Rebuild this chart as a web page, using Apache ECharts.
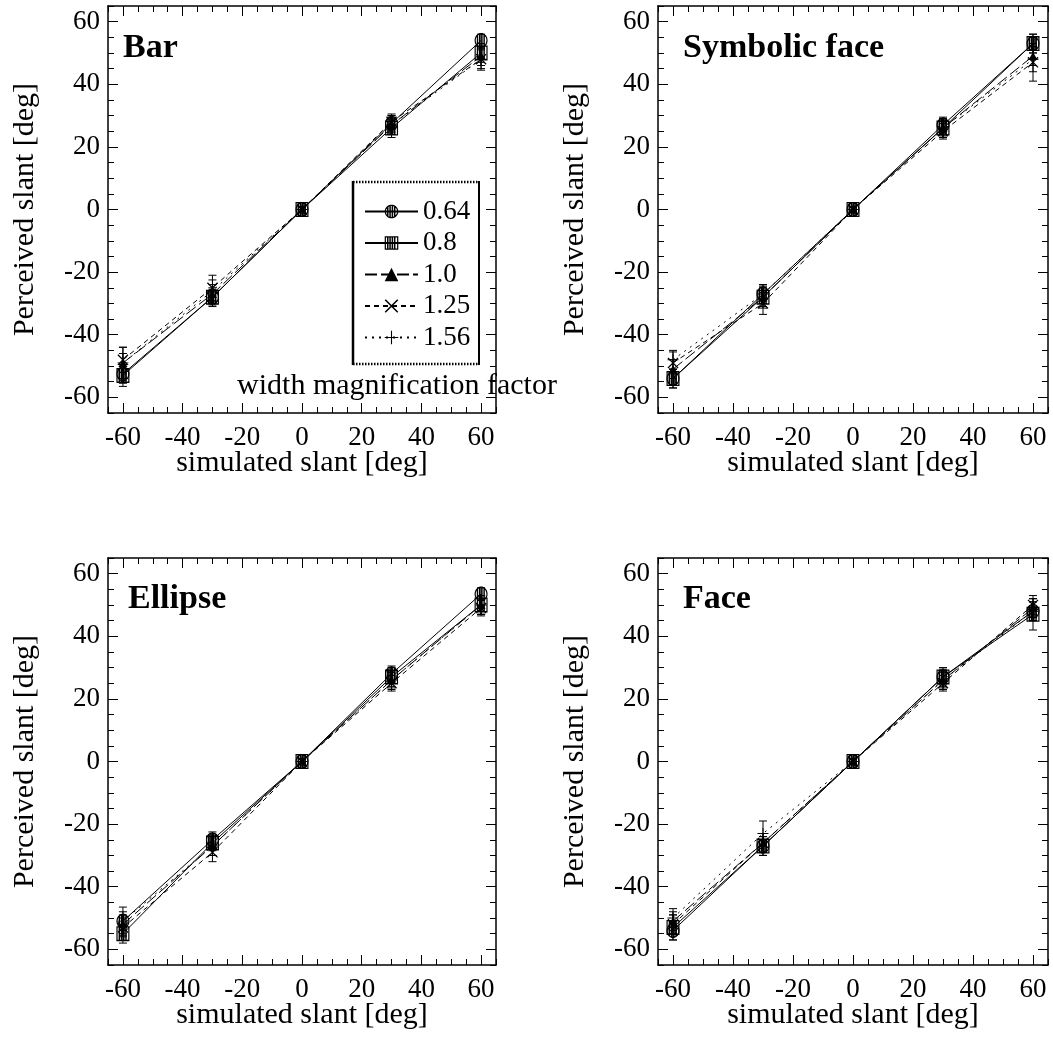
<!DOCTYPE html>
<html><head><meta charset="utf-8">
<script src="https://cdn.jsdelivr.net/npm/echarts@6/dist/echarts.min.js"></script>
<style>html,body{margin:0;padding:0;background:#fff}#c{width:1053px;height:1042px}</style>
</head><body><div id="c"></div>
<script>
// ---------------- data ----------------
const slants = [-60, -30, 0, 30, 60];
const factors = ['0.64', '0.8', '1.0', '1.25', '1.56'];
const panelNames = ['Bar', 'Symbolic face', 'Ellipse', 'Face'];
const tickLabels = [-60, -40, -20, 0, 20, 40, 60];
const legendTitle = 'width magnification factor';
const xTitle = 'simulated slant [deg]';
const yTitle = 'Perceived slant [deg]';

const barMean = [
  [-52.5, -28, 0, 27.5, 54],
  [-53, -28, 0, 26, 50],
  [-49, -27, 0, 27, 49],
  [-48, -25, 0, 28, 48],
  [-49, -26, 0, 27, 48]
];
const barErr = [
  [3, 2.5, 0.8, 2.5, 2],
  [3.5, 3, 0.8, 3, 3],
  [3, 3, 0.8, 2.5, 3],
  [4, 4, 0.8, 2.5, 3],
  [5, 3.5, 0.8, 3, 3.5]
];
const symMean = [
  [-54, -27, 0, 27, 53],
  [-54, -28, 0, 26, 53],
  [-51, -28, 0, 26, 49],
  [-49, -30, 0, 25, 47],
  [-48, -27, 0, 26, 48]
];
const symErr = [
  [3, 3, 0.8, 2.5, 3],
  [3, 3, 0.8, 3, 3],
  [3, 3.5, 0.8, 2.5, 3],
  [3.5, 3.5, 0.8, 2.5, 6],
  [3, 3, 0.8, 3, 4]
];
const ellMean = [
  [-51, -25, 0, 28, 53.5],
  [-55, -26, 0, 27, 50],
  [-52, -27, 0, 26, 50],
  [-53, -29, 0, 25, 49],
  [-51, -27, 0, 26, 50]
];
const ellErr = [
  [4.5, 2.5, 0.8, 2.5, 2],
  [3, 2.5, 0.8, 3, 3],
  [3, 3, 0.8, 2.5, 3],
  [3, 3, 0.8, 2.5, 2.5],
  [3, 3, 0.8, 3, 3]
];
const faceMean = [
  [-54, -27, 0, 27, 48],
  [-53, -27, 0, 27, 47],
  [-51, -26, 0, 26, 49],
  [-52, -26, 0, 25, 50],
  [-50, -23, 0, 26, 48]
];
const faceErr = [
  [3, 3, 0.8, 2.5, 3],
  [4, 3, 0.8, 3, 5],
  [3, 3, 0.8, 2.5, 3],
  [3, 3, 0.8, 2.5, 3],
  [3, 4, 0.8, 3, 3]
];
const panelMeans = [barMean, symMean, ellMean, faceMean];
const panelErrs = [barErr, symErr, ellErr, faceErr];

// ---------------- styles ----------------
const FONT = '"Liberation Serif", "DejaVu Serif", serif';
const grids = [
  {left: 108, top: 6, width: 388, height: 407},
  {left: 658, top: 6, width: 390, height: 407},
  {left: 108, top: 558, width: 388, height: 407},
  {left: 658, top: 558, width: 390, height: 407}
];

function rectCW(x, y, w, h) { return `M${x} ${y}L${x + w} ${y}L${x + w} ${y + h}L${x} ${y + h}Z`; }
function rectCCW(x, y, w, h) { return `M${x} ${y}L${x} ${y + h}L${x + w} ${y + h}L${x + w} ${y}Z`; }
function circlePoly(cx, cy, r, ccw) {
  let s = ''; const n = 36;
  for (let k = 0; k < n; k++) {
    const a = (ccw ? -1 : 1) * k / n * 2 * Math.PI;
    s += (k ? 'L' : 'M') + (cx + r * Math.cos(a)).toFixed(2) + ' ' + (cy + r * Math.sin(a)).toFixed(2);
  }
  return s + 'Z';
}
const stripeLeft = [3.4, 6.8, 10.2, 13.6];
const stripeW = 2.2;
function circleSymbol() {
  let p = circlePoly(10, 10, 10, false) + circlePoly(10, 10, 8.2, true);
  stripeLeft.forEach(c => {
    const d = c + stripeW / 2 - 10;
    const h = Math.sqrt(Math.max(0, 8.6 * 8.6 - d * d));
    p += rectCW(c, +(10 - h).toFixed(2), stripeW, +(2 * h).toFixed(2));
  });
  return 'path://' + p;
}
function squareSymbol() {
  let p = rectCW(0, 0, 20, 20) + rectCCW(1.8, 1.8, 16.4, 16.4);
  stripeLeft.forEach(c => { p += rectCW(c, 1.8, stripeW, 16.4); });
  return 'path://' + p;
}
const crossSymbol = 'path://M0 1.6L1.6 0L20 18.4L18.4 20Z M18.4 0L20 1.6L1.6 20L0 18.4Z';
const plusSymbol = 'path://' + rectCW(9.2, 0, 1.6, 20) + rectCW(0, 9.2, 20, 1.6);

const seriesStyle = [
  {symbol: circleSymbol(), size: [13, 15], dash: 'solid'},
  {symbol: squareSymbol(), size: [13, 15], dash: 'solid'},
  {symbol: 'triangle', size: [9, 8], dash: [12, 4]},
  {symbol: crossSymbol, size: [11, 11], dash: [5, 4]},
  {symbol: plusSymbol, size: [11, 11], dash: [2, 5]}
];

// ---------------- axes ----------------
const xAxes = [], yAxes = [];
const baseAxis = (g) => ({
  gridIndex: g, type: 'value', min: -65, max: 65, interval: 5,
  splitLine: {show: false}
});
const labelStyle = {color: '#000', fontFamily: FONT, fontSize: 27};
grids.forEach((gr, g) => {
  xAxes.push(Object.assign(baseAxis(g), {
    position: 'bottom',
    axisLine: {show: true, onZero: false, lineStyle: {color: '#000', width: 1.5}},
    axisTick: {show: true, inside: true, length: 6, lineStyle: {color: '#000', width: 1}},
    axisLabel: Object.assign({show: true, margin: 11,
      formatter: v => (tickLabels.indexOf(v) >= 0 ? String(v) : '')}, labelStyle),
    name: xTitle, nameLocation: 'middle', nameGap: 35, nameMoveOverlap: false,
    nameTextStyle: {color: '#000', fontFamily: FONT, fontSize: 30}
  }));
  xAxes.push(Object.assign(baseAxis(g), {
    position: 'bottom',
    axisLine: {show: false, onZero: false},
    axisTick: {show: true, inside: true, length: 10, customValues: tickLabels, lineStyle: {color: '#000', width: 1}},
    axisLabel: {show: false}
  }));
  xAxes.push(Object.assign(baseAxis(g), {
    position: 'top',
    axisLine: {show: true, onZero: false, lineStyle: {color: '#000', width: 1.5}},
    axisTick: {show: true, inside: true, length: 6, lineStyle: {color: '#000', width: 1}},
    axisLabel: {show: false}
  }));
  xAxes.push(Object.assign(baseAxis(g), {
    position: 'top',
    axisLine: {show: false, onZero: false},
    axisTick: {show: true, inside: true, length: 10, customValues: tickLabels, lineStyle: {color: '#000', width: 1}},
    axisLabel: {show: false}
  }));
  yAxes.push(Object.assign(baseAxis(g), {
    position: 'left',
    axisLine: {show: true, onZero: false, lineStyle: {color: '#000', width: 1.5}},
    axisTick: {show: true, inside: true, length: 6, lineStyle: {color: '#000', width: 1}},
    axisLabel: Object.assign({show: true, margin: 8,
      formatter: v => (tickLabels.indexOf(v) >= 0 ? String(v) : '')}, labelStyle),
    name: yTitle, nameLocation: 'middle', nameGap: 68, nameRotate: 90, nameMoveOverlap: false,
    nameTextStyle: {color: '#000', fontFamily: FONT, fontSize: 30}
  }));
  yAxes.push(Object.assign(baseAxis(g), {
    position: 'left',
    axisLine: {show: false, onZero: false},
    axisTick: {show: true, inside: true, length: 10, customValues: tickLabels, lineStyle: {color: '#000', width: 1}},
    axisLabel: {show: false}
  }));
  yAxes.push(Object.assign(baseAxis(g), {
    position: 'right',
    axisLine: {show: true, onZero: false, lineStyle: {color: '#000', width: 1.5}},
    axisTick: {show: true, inside: true, length: 6, lineStyle: {color: '#000', width: 1}},
    axisLabel: {show: false}
  }));
  yAxes.push(Object.assign(baseAxis(g), {
    position: 'right',
    axisLine: {show: false, onZero: false},
    axisTick: {show: true, inside: true, length: 10, customValues: tickLabels, lineStyle: {color: '#000', width: 1}},
    axisLabel: {show: false}
  }));
});

// ---------------- series ----------------
const series = [];
panelMeans.forEach((means, g) => {
  const errs = panelErrs[g];
  const ebData = [];
  means.forEach((row, i) => row.forEach((m, j) => {
    ebData.push([slants[j], m - errs[i][j], m + errs[i][j]]);
  }));
  series.push({
    type: 'custom', xAxisIndex: g * 4, yAxisIndex: g * 4, z: 2, silent: true,
    encode: {x: 0, y: [1, 2]},
    data: ebData,
    renderItem: (params, api) => {
      const x = api.value(0);
      const lo = api.coord([x, api.value(1)]);
      const hi = api.coord([x, api.value(2)]);
      const cap = 4;
      const st = {stroke: '#000', lineWidth: 1};
      return {type: 'group', children: [
        {type: 'line', shape: {x1: lo[0], y1: lo[1], x2: hi[0], y2: hi[1]}, style: st},
        {type: 'line', shape: {x1: lo[0] - cap, y1: lo[1], x2: lo[0] + cap, y2: lo[1]}, style: st},
        {type: 'line', shape: {x1: hi[0] - cap, y1: hi[1], x2: hi[0] + cap, y2: hi[1]}, style: st}
      ]};
    }
  });
  means.forEach((row, i) => {
    const s = seriesStyle[i];
    series.push({
      type: 'line', name: factors[i], xAxisIndex: g * 4, yAxisIndex: g * 4, z: 3,
      data: row.map((m, j) => [slants[j], m]),
      symbol: s.symbol, symbolSize: s.size, showSymbol: true,
      itemStyle: {color: '#000'},
      lineStyle: {color: '#000', width: 1, type: s.dash},
      silent: true
    });
  });
});

// ---------------- titles ----------------
const titlePos = [[123, 31], [683, 31], [128, 582], [683, 582]];
const titles = panelNames.map((t, k) => ({
  text: t, left: titlePos[k][0], top: titlePos[k][1], padding: 0,
  textStyle: {color: '#000', fontFamily: FONT, fontSize: 34, fontWeight: 'bold'}
}));

const chart = echarts.init(document.getElementById('c'), null, {renderer: 'canvas'});
chart.setOption({
  animation: false,
  backgroundColor: '#fff',
  title: titles,
  grid: grids.map(g => Object.assign({outerBoundsMode: 'none', containLabel: false}, g)),
  xAxis: xAxes,
  yAxis: yAxes,
  legend: {
    data: factors, orient: 'vertical', left: 359, top: 193,
    itemWidth: 53, itemHeight: 17, itemGap: 4.5, selectedMode: false,
    textStyle: {color: '#000', fontFamily: FONT, fontSize: 27}
  },
  graphic: [
    {type: 'line', shape: {x1: 353, y1: 181, x2: 353, y2: 365}, style: {stroke: '#000', lineWidth: 2.5}},
    {type: 'line', shape: {x1: 479, y1: 181, x2: 479, y2: 365}, style: {stroke: '#000', lineWidth: 2}},
    {type: 'line', shape: {x1: 353, y1: 182, x2: 479, y2: 182}, style: {stroke: '#000', lineWidth: 2.5, lineDash: [1.5, 1.5]}},
    {type: 'line', shape: {x1: 353, y1: 364, x2: 479, y2: 364}, style: {stroke: '#000', lineWidth: 2.5, lineDash: [1.5, 1.5]}},
    {type: 'text', x: 397, y: 386, style: {text: legendTitle, fill: '#000', font: '30px ' + FONT, textAlign: 'center', textVerticalAlign: 'middle'}}
  ],
  series: series
});
</script>
</body></html>
